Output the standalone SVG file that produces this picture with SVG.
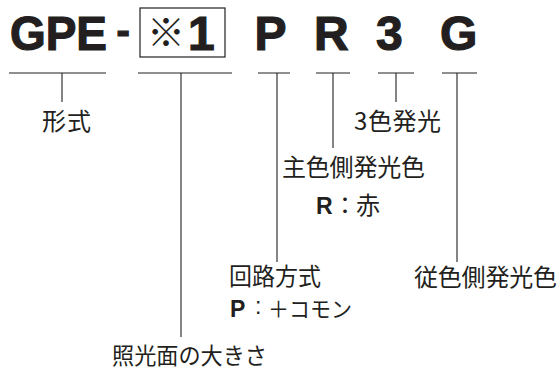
<svg xmlns="http://www.w3.org/2000/svg" width="558" height="370" viewBox="0 0 558 370">
<style>
.code{font-family:"Liberation Sans",Arial,sans-serif;font-weight:bold;font-size:48px;fill:#231f20;stroke:#231f20;stroke-width:1.2px}
.mark{font-family:"Noto Sans CJK JP",sans-serif;font-weight:bold;font-size:38px;fill:#231f20}
.lbl{font-family:"Noto Sans CJK JP","Noto Sans",sans-serif;font-size:24px;fill:#231f20}
.b{font-family:"Liberation Sans",Arial,sans-serif;font-weight:bold;font-size:23px;fill:#231f20}
.c{font-family:"Liberation Sans",Arial,sans-serif;font-size:23px;fill:#231f20}
.ln{stroke:#231f20;stroke-width:1.1;fill:none}
</style>
<rect width="558" height="370" fill="#ffffff"/>
<g id="code">
<text class="code" x="10" y="50" textLength="97" lengthAdjust="spacingAndGlyphs">GPE</text>
<text class="code" x="116.5" y="43.5" style="font-size:40px">-</text>
<rect x="140" y="8" width="85" height="49" fill="none" stroke="#231f20" stroke-width="1.2"/>
<text class="mark" x="166" y="46" text-anchor="middle">※</text>
<text class="code" x="188" y="50">1</text>
<text class="code" x="254.5" y="50">P</text>
<text class="code" x="314" y="50">R</text>
<text class="code" x="376" y="50">3</text>
<text class="code" x="440" y="50">G</text>
</g>
<g id="connectors" class="ln">
<path d="M9,73H106M62,73V102"/>
<path d="M138,73H232M181,73V337"/>
<path d="M258,73H290M277,73V262"/>
<path d="M316,73H350M333,73V148"/>
<path d="M378,73H414M396,73V102"/>
<path d="M442,73H477M457,73V262"/>
</g>
<g id="n-keishiki"><text class="lbl" x="42" y="130" textLength="49" lengthAdjust="spacing">形式</text></g>
<g id="n-size"><text class="lbl" x="112" y="364" style="font-size:22.5px" textLength="155" lengthAdjust="spacingAndGlyphs">照光面の大きさ</text></g>
<g id="n-circuit">
<text class="lbl" x="229" y="284.5" textLength="92" lengthAdjust="spacingAndGlyphs">回路方式</text>
<text class="b" x="230" y="316.5">P</text>
<text class="c" x="255" y="314">:</text>
<text class="lbl" x="268" y="317" style="font-size:22px" textLength="84" lengthAdjust="spacingAndGlyphs">＋コモン</text>
</g>
<g id="n-main">
<text class="lbl" x="282" y="176" textLength="143" lengthAdjust="spacing">主色側発光色</text>
<text class="b" x="316" y="214">R</text>
<text class="lbl" x="333" y="214">：</text>
<text class="lbl" x="356" y="214">赤</text>
</g>
<g id="n-3color"><text class="lbl" x="354" y="130" textLength="87" lengthAdjust="spacing">3色発光</text></g>
<g id="n-sub"><text class="lbl" x="414" y="286" textLength="143" lengthAdjust="spacing">従色側発光色</text></g>
</svg>
